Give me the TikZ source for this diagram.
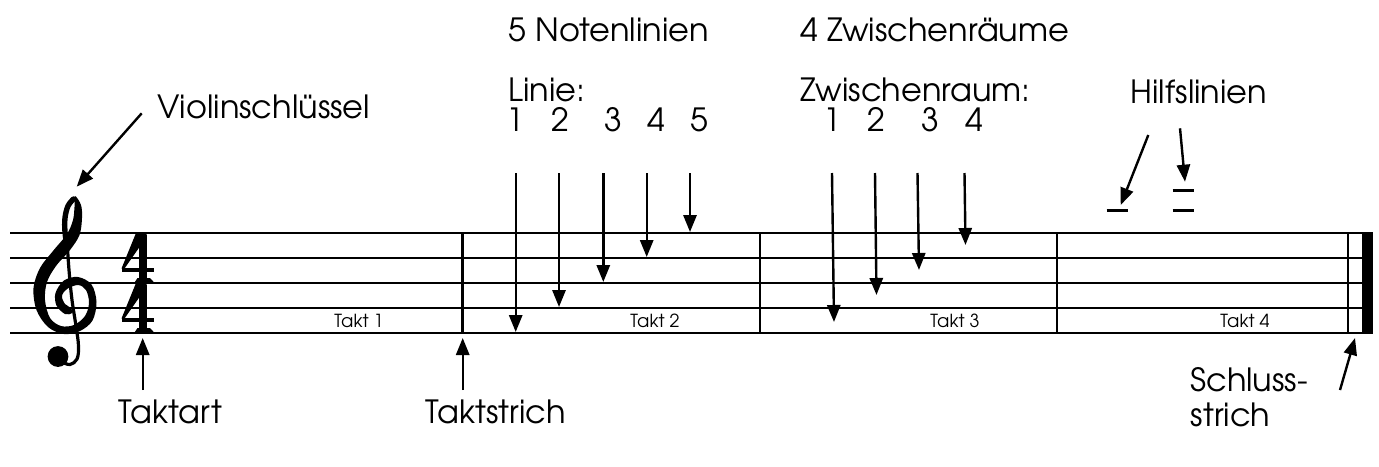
\documentclass[tikz,border=0pt]{standalone}
\usepackage{fontspec}
\setmainfont{TeX Gyre Adventor}
\usetikzlibrary{arrows.meta}
\begin{document}
\begin{tikzpicture}[x=0.5pt,y=-0.5pt,
  lbl/.style={font=\fontsize{16}{19}\selectfont, inner sep=0pt, anchor=base west},
  dig/.style={font=\fontsize{16}{19}\selectfont, inner sep=0pt, anchor=base},
  small/.style={font=\fontsize{9}{10}\selectfont, inner sep=0pt, anchor=base},
  arr/.style={line width=1.2pt, -{Triangle[length=8.5pt,width=6.6pt]}},
  staffline/.style={line width=1.35pt},
  barline/.style={line width=1.25pt},
  ledger/.style={line width=1.3pt},
  ]
\useasboundingbox (0,0) rectangle (1379,466);

% staff
\foreach \yy in {233,258,283,308,333} \draw[staffline] (10,\yy) -- (1373,\yy);
% bar lines
\foreach \xx in {462.5,760,1057,1348} \draw[barline] (\xx,232.3) -- (\xx,333.7);
\fill (1362,232.3) rectangle (1373,333.7);

% treble clef
\fill plot[smooth cycle, tension=0.55] coordinates {
 (75,196) (74.5,207) (73,220) (67,234) (53,251) (40,268) (33.5,288) (36.5,310) (48,327) (64,334) (80,331) (92.5,320.5) (96.5,302) (91.5,284.5) (78,277) (64,280.5) (55.5,293) (56.5,305.5) (65,314) (72,313)
 (71,308) (65,304) (62,296) (67,289) (78,285) (86,290) (89,303) (85,316) (74,325) (61,326) (50,318) (45,300) (47,282) (56,266) (70,250) (79.5,235) (82,218) (81,205)};
\draw[line width=2.7pt, line cap=round] plot[smooth, tension=0.6] coordinates {(73.5,199) (68,206) (65,218) (65,232) (67,246)};
\draw[line width=1.6pt, line cap=round] plot[smooth, tension=0.6] coordinates {(67,240) (69,270) (72,300) (76,326) (78.5,346) (77,359) (70,364.5) (62,362)};
\fill (58,356.5) circle[radius=5.2pt];

% time signature 4/4
\foreach \dy in {0,50}{
  \fill (136,233+\dy) -- (146.5,233+\dy) -- (146.5,237+\dy) -- (124.5,268.5+\dy) -- (121.5,268.5+\dy) -- cycle;
  \fill (121.5,267.5+\dy) rectangle (154,271.5+\dy);
  \fill (138.5,235+\dy) rectangle (146.5,283+\dy);
  \fill (134,283.4+\dy) -- (155,283.4+\dy) -- (150,278+\dy) -- (137.5,278+\dy) -- cycle;
}

% ledger lines
\draw[ledger] (1106.7,210.7) -- (1128.3,210.7);
\draw[ledger] (1172.7,190.7) -- (1194.3,190.7);
\draw[ledger] (1172.7,210.7) -- (1194.3,210.7);

% texts
\node[lbl] (violin) at (157,118.3) {Violinschlüssel};
\node[lbl] (noten) at (508,41.7) {5 Notenlinien};
\node[lbl] (linie) at (508,101.7) {Linie:};
\node[dig] (d1) at (515.5,131.7) {1};
\node[dig] (d2) at (560,131.7) {2};
\node[dig] (d3) at (613,131.7) {3};
\node[dig] (d4) at (656.5,131.7) {4};
\node[dig] (d5) at (699,131.7) {5};
\node[lbl] (zwr) at (800,41.7) {4 Zwischenräume};
\node[lbl] (zw) at (800,101.7) {Zwischenraum:};
\node[dig] (z1) at (832.5,131.7) {1};
\node[dig] (z2) at (876.5,131.7) {2};
\node[dig] (z3) at (930,131.7) {3};
\node[dig] (z4) at (974,131.7) {4};
\node[lbl] (hilf) at (1130,103.3) {Hilfslinien};
\node[lbl] (taktart) at (118.3,423.3) {Taktart};
\node[lbl] (taktstrich) at (425,423.3) {Taktstrich};
\node[lbl] (schlussa) at (1190,391.7) {Schluss-};
\node[lbl] (schlussb) at (1190,426.7) {strich};
\node[small] (takt1) at (359,327) {Takt 1};
\node[small] (takt2) at (655,327) {Takt 2};
\node[small] (takt3) at (955,327) {Takt 3};
\node[small] (takt4) at (1245,327) {Takt 4};

% arrow end points
\coordinate (va) at (141.7,113.3); \coordinate (vb) at (76.7,186.7);
\coordinate (ta) at (142.7,390); \coordinate (tb) at (142.7,338);
\coordinate (sa) at (462.7,390); \coordinate (sb) at (462.7,338);
\coordinate (fa) at (1340,390); \coordinate (fb) at (1355,338);
\coordinate (ha) at (1148.3,135); \coordinate (hb) at (1120.7,205);
\coordinate (hc) at (1180,128.3); \coordinate (hd) at (1185,181.7);
\coordinate (l1a) at (515.7,173); \coordinate (l1b) at (515.7,332);
\coordinate (l2a) at (559,173); \coordinate (l2b) at (559,307);
\coordinate (l3a) at (603.3,173); \coordinate (l3b) at (603.3,282);
\coordinate (l4a) at (646.7,173); \coordinate (l4b) at (646.7,257);
\coordinate (l5a) at (690,173); \coordinate (l5b) at (690,232);
\coordinate (z1a) at (832,173); \coordinate (z1b) at (834,322);
\coordinate (z2a) at (875,173); \coordinate (z2b) at (876.5,295);
\coordinate (z3a) at (917.5,173); \coordinate (z3b) at (919,270);
\coordinate (z4a) at (964.5,173); \coordinate (z4b) at (965.5,245);

\foreach \a/\b in {va/vb,ta/tb,sa/sb,fa/fb,ha/hb,hc/hd,l1a/l1b,l2a/l2b,l3a/l3b,l4a/l4b,l5a/l5b,z1a/z1b,z2a/z2b,z3a/z3b,z4a/z4b}
  \draw[arr] (\a) -- (\b);
\end{tikzpicture}
\end{document}
